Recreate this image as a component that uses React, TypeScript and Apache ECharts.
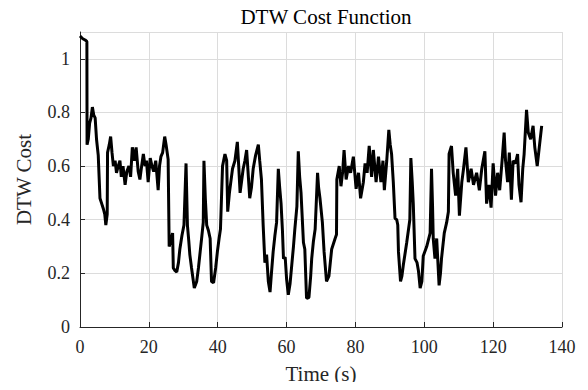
import React, { useEffect, useRef } from "react";
import * as echarts from "echarts";

const times: number[] = [
  0, 0.8, 1.5, 2.0, 2.05, 2.4, 2.8, 3.2, 3.6, 4.0, 4.4, 4.8, 5.3, 5.8, 6.3, 6.8, 7.2, 7.5, 7.9,
  8.0, 8.5, 8.9, 9.3, 9.7, 10.2, 10.6, 11.1, 11.6, 12.0, 12.5, 13.1, 13.6, 14.2, 14.7, 15.2,
  15.8, 16.3, 16.9, 17.4, 17.9, 18.4, 18.9, 19.3, 19.8, 20.4, 20.9, 21.4, 22.0, 22.7, 23.1,
  23.5, 24.0, 24.6, 25.0, 25.6, 25.9, 26.3, 26.9, 27.1, 27.6, 28.1, 28.6, 29.0, 29.6, 30.2,
  30.8, 31.2, 31.6, 31.9, 32.4, 33.2, 33.9, 34.4, 34.9, 35.4, 35.8, 36.0, 36.4, 36.8, 37.3,
  37.8, 38.2, 38.8, 39.4, 39.9, 40.4, 40.8, 41.4, 42.1, 42.6, 42.9, 43.4, 43.7, 44.3, 45.0,
  45.7, 46.1, 46.5, 47.0, 47.4, 47.9, 48.4, 48.8, 49.3, 49.8, 50.3, 51.0, 51.8, 52.2, 52.7,
  53.2, 53.7, 54.2, 54.7, 55.2, 55.6, 56.1, 56.6, 57.1, 57.6, 58.0, 58.4, 58.8, 59.1, 59.6,
  60.0, 60.5, 61.0, 61.5, 62.0, 62.4, 63.0, 63.4, 63.8, 64.2, 64.9, 65.3, 65.8, 66.5, 67.0,
  67.3, 67.8, 68.3, 69.0, 69.3, 69.7, 70.4, 70.9, 71.6, 72.3, 72.7, 73.1, 74.1, 74.5, 74.6,
  75.3, 75.8, 76.3, 76.7, 77.3, 78.0, 78.6, 79.4, 80.2, 80.9, 81.5, 82.3, 82.8, 83.4, 84.0,
  84.7, 85.2, 86.0, 86.7, 87.4, 88.0, 88.4, 89.1, 89.7, 90.1, 90.5, 91.0, 91.5, 92.0, 92.3,
  92.5, 93.1, 93.5, 93.9, 94.9, 95.8, 96.1, 96.5, 96.8, 97.0, 97.3, 97.9, 98.3, 98.8, 99.3,
  99.7, 100.7, 101.7, 102.1, 102.4, 102.6, 103.1, 103.6, 104.3, 104.7, 105.0, 105.8, 106.5,
  107.0, 107.2, 107.9, 108.4, 109.1, 109.7, 110.2, 110.9, 111.4, 112.1, 112.8, 113.6, 114.3,
  115.2, 116.0, 116.7, 117.6, 118.1, 118.8, 119.4, 120.0, 120.7, 121.3, 121.9, 122.6, 123.2,
  123.6, 124.2, 124.7, 125.3, 125.8, 126.5, 127.1, 127.5, 128.1, 128.6, 129.0, 129.7, 130.2,
  130.9, 131.6, 132.1, 132.8, 133.4, 134.1,
];

const costs: number[] = [
  1.085, 1.075, 1.07, 1.065, 0.68, 0.7, 0.76, 0.78, 0.82, 0.79, 0.78, 0.7, 0.64, 0.48, 0.46, 0.44,
  0.42, 0.38, 0.42, 0.65, 0.68, 0.71, 0.65, 0.6, 0.62, 0.575, 0.6, 0.62, 0.56, 0.6, 0.53, 0.58,
  0.6, 0.56, 0.67, 0.62, 0.67, 0.58, 0.55, 0.6, 0.645, 0.6, 0.62, 0.54, 0.63, 0.6, 0.58, 0.62,
  0.51, 0.6, 0.635, 0.65, 0.71, 0.68, 0.625, 0.3, 0.32, 0.35, 0.22, 0.21, 0.205, 0.24, 0.29,
  0.34, 0.38, 0.61, 0.38, 0.32, 0.27, 0.22, 0.145, 0.17, 0.22, 0.28, 0.34, 0.39, 0.62, 0.48,
  0.38, 0.36, 0.33, 0.17, 0.165, 0.22, 0.28, 0.33, 0.365, 0.6, 0.645, 0.62, 0.43, 0.5, 0.53,
  0.59, 0.62, 0.69, 0.6, 0.5, 0.55, 0.59, 0.62, 0.66, 0.58, 0.48, 0.52, 0.59, 0.64, 0.68, 0.62,
  0.55, 0.38, 0.24, 0.27, 0.17, 0.13, 0.2, 0.28, 0.34, 0.39, 0.59, 0.52, 0.46, 0.36, 0.255,
  0.26, 0.18, 0.12, 0.16, 0.23, 0.3, 0.365, 0.45, 0.655, 0.56, 0.5, 0.315, 0.29, 0.107, 0.11,
  0.19, 0.255, 0.32, 0.365, 0.575, 0.52, 0.48, 0.39, 0.28, 0.17, 0.19, 0.24, 0.29, 0.33, 0.345,
  0.55, 0.6, 0.525, 0.58, 0.66, 0.55, 0.6, 0.575, 0.635, 0.515, 0.575, 0.48, 0.54, 0.61, 0.575,
  0.675, 0.56, 0.66, 0.54, 0.635, 0.54, 0.62, 0.51, 0.62, 0.735, 0.68, 0.645, 0.54, 0.405, 0.4,
  0.38, 0.28, 0.17, 0.19, 0.23, 0.315, 0.4, 0.63, 0.54, 0.46, 0.46, 0.255, 0.24, 0.21, 0.145,
  0.17, 0.265, 0.3, 0.35, 0.59, 0.45, 0.33, 0.255, 0.33, 0.155, 0.2, 0.255, 0.35, 0.39, 0.43,
  0.645, 0.675, 0.575, 0.49, 0.59, 0.415, 0.54, 0.59, 0.67, 0.54, 0.59, 0.53, 0.575, 0.51,
  0.59, 0.655, 0.46, 0.53, 0.445, 0.61, 0.49, 0.575, 0.51, 0.62, 0.725, 0.62, 0.54, 0.65, 0.475,
  0.62, 0.61, 0.645, 0.53, 0.465, 0.59, 0.645, 0.81, 0.725, 0.7, 0.75, 0.67, 0.6, 0.67, 0.75,
];

const titleText = "DTW Cost Function";
const xName = "Time (s)";
const yName = "DTW Cost";

const FONT = "Liberation Serif";

export default function App() {
  const ref = useRef<HTMLDivElement>(null);
  useEffect(() => {
    if (!ref.current) return;
    const chart = echarts.init(ref.current, null, { renderer: "svg" });
    const data = times.map((t, i) => [t, costs[i]]);
    chart.setOption({
      animation: false,
      backgroundColor: "#ffffff",
      textStyle: { fontFamily: FONT },
      title: {
        text: titleText,
        left: 321,
        textAlign: "center",
        top: 1,
        textStyle: { fontFamily: FONT, fontSize: 21, fontWeight: "normal", color: "#000" },
      },
      grid: { left: 80, right: 26, top: 32, bottom: 63, containLabel: false },
      xAxis: {
        type: "value",
        min: 0,
        max: 140,
        interval: 20,
        name: xName,
        nameLocation: "middle",
        nameGap: 36,
        nameTextStyle: { fontFamily: FONT, fontSize: 21, color: "#262626" },
        axisLine: { show: true, onZero: false, lineStyle: { color: "#262626", width: 1 } },
        axisTick: { show: true, inside: true, length: 5, lineStyle: { color: "#262626" } },
        axisLabel: { fontFamily: FONT, fontSize: 18, color: "#262626", margin: 11 },
        splitLine: { show: true, lineStyle: { color: "#dcdcdc", width: 1 } },
      },
      yAxis: {
        type: "value",
        min: 0,
        max: 1.1,
        interval: 0.2,
        name: yName,
        nameLocation: "middle",
        nameGap: 46,
        nameRotate: 90,
        nameTextStyle: { fontFamily: FONT, fontSize: 21, color: "#262626" },
        axisLine: { show: true, lineStyle: { color: "#262626", width: 1 } },
        axisTick: { show: true, inside: true, length: 5, lineStyle: { color: "#262626" } },
        axisLabel: {
          fontFamily: FONT,
          fontSize: 18,
          color: "#262626",
          margin: 10,
          showMaxLabel: false,
          formatter: (v: number) => (Math.abs(v - 1.1) < 1e-6 ? "" : String(Math.round(v * 10) / 10)),
        },
        splitLine: { show: true, lineStyle: { color: "#dcdcdc", width: 1 } },
      },
      series: [
        {
          type: "line",
          data,
          showSymbol: false,
          symbol: "none",
          lineStyle: { color: "#000000", width: 3 },
        },
      ],
    });
    return () => chart.dispose();
  }, []);
  return <div ref={ref} style={{ width: 588, height: 390, margin: -8 }} />;
}
